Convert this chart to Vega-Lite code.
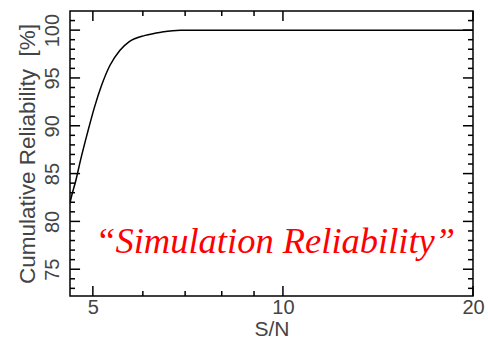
{
  "$schema": "https://vega.github.io/schema/vega-lite/v6.json",
  "width": 403,
  "height": 285,
  "autosize": "none",
  "padding": {"left": 70, "top": 11, "right": 15, "bottom": 47},
  "background": "white",
  "config": {
    "view": {"stroke": "black", "strokeWidth": 1.5},
    "axis": {
      "labelFont": "Liberation Sans",
      "titleFont": "Liberation Sans",
      "labelColor": "#444",
      "titleColor": "#444",
      "labelFontSize": 20,
      "titleFontSize": 21,
      "titleFontWeight": "normal",
      "domain": false,
      "grid": false,
      "labelFlush": false
    },
    "rule": {"color": "black", "strokeWidth": 1.5}
  },
  "resolve": {"axis": {"x": "independent", "y": "independent"}},
  "datasets": {
    "curve": [
      {"sn": 4.6, "rel": 81.9},
      {"sn": 4.61, "rel": 82.2},
      {"sn": 4.70, "rel": 84.3},
      {"sn": 4.78, "rel": 86.4},
      {"sn": 4.90, "rel": 89.2},
      {"sn": 5.03, "rel": 91.95},
      {"sn": 5.16, "rel": 94.2},
      {"sn": 5.32, "rel": 96.3},
      {"sn": 5.52, "rel": 97.9},
      {"sn": 5.71, "rel": 98.8},
      {"sn": 6.05, "rel": 99.45},
      {"sn": 6.43, "rel": 99.8},
      {"sn": 6.88, "rel": 100},
      {"sn": 8, "rel": 100},
      {"sn": 12, "rel": 100},
      {"sn": 20, "rel": 100}
    ],
    "xmajor": [{"v": 5}, {"v": 10}, {"v": 20}],
    "xminor": [{"v": 6}, {"v": 7}, {"v": 8}, {"v": 9}],
    "ymajor": [{"v": 75}, {"v": 80}, {"v": 85}, {"v": 90}, {"v": 95}, {"v": 100}],
    "yminor": [
      {"v": 73}, {"v": 74}, {"v": 76}, {"v": 77}, {"v": 78}, {"v": 79},
      {"v": 81}, {"v": 82}, {"v": 83}, {"v": 84}, {"v": 86}, {"v": 87}, {"v": 88}, {"v": 89},
      {"v": 91}, {"v": 92}, {"v": 93}, {"v": 94}, {"v": 96}, {"v": 97}, {"v": 98}, {"v": 99}, {"v": 101}
    ]
  },
  "layer": [
    {
      "data": {"name": "curve"},
      "mark": {"type": "line", "color": "black", "strokeWidth": 1.5, "interpolate": "monotone", "clip": true},
      "encoding": {
        "x": {
          "field": "sn", "type": "quantitative",
          "scale": {"type": "log", "domain": [4.6, 20], "nice": false, "zero": false},
          "axis": {"orient": "bottom", "title": "S/N", "values": [5, 10, 20], "ticks": false, "labelPadding": 1, "titlePadding": 1}
        },
        "y": {
          "field": "rel", "type": "quantitative",
          "scale": {"domain": [72.2, 102], "nice": false, "zero": false},
          "axis": {"orient": "left", "title": "Cumulative Reliability\u00a0 [%]", "titleFontSize": 22.5, "values": [75, 80, 85, 90, 95, 100], "ticks": false, "labelAngle": -90, "labelAlign": "center", "labelBaseline": "bottom", "labelPadding": 8, "titlePadding": 3}
        }
      }
    },
    {
      "data": {"name": "xmajor"},
      "mark": {"type": "rule"},
      "encoding": {
        "x": {"field": "v", "type": "quantitative", "axis": null},
        "y": {"datum": 72.2, "type": "quantitative", "axis": null},
        "y2": {"datum": 73.25}
      }
    },
    {
      "data": {"name": "xminor"},
      "mark": {"type": "rule"},
      "encoding": {
        "x": {"field": "v", "type": "quantitative", "axis": null},
        "y": {"datum": 72.2, "type": "quantitative", "axis": null},
        "y2": {"datum": 72.72}
      }
    },
    {
      "data": {"name": "xmajor"},
      "mark": {"type": "rule"},
      "encoding": {
        "x": {"field": "v", "type": "quantitative", "axis": null},
        "y": {"datum": 102, "type": "quantitative", "axis": null},
        "y2": {"datum": 100.955}
      }
    },
    {
      "data": {"name": "xminor"},
      "mark": {"type": "rule"},
      "encoding": {
        "x": {"field": "v", "type": "quantitative", "axis": null},
        "y": {"datum": 102, "type": "quantitative", "axis": null},
        "y2": {"datum": 101.48}
      }
    },
    {
      "data": {"name": "ymajor"},
      "mark": {"type": "rule"},
      "encoding": {
        "y": {"field": "v", "type": "quantitative", "axis": null},
        "x": {"datum": 4.6, "type": "quantitative", "axis": null},
        "x2": {"datum": 4.772}
      }
    },
    {
      "data": {"name": "yminor"},
      "mark": {"type": "rule"},
      "encoding": {
        "y": {"field": "v", "type": "quantitative", "axis": null},
        "x": {"datum": 4.6, "type": "quantitative", "axis": null},
        "x2": {"datum": 4.685}
      }
    },
    {
      "data": {"name": "ymajor"},
      "mark": {"type": "rule"},
      "encoding": {
        "y": {"field": "v", "type": "quantitative", "axis": null},
        "x": {"datum": 20, "type": "quantitative", "axis": null},
        "x2": {"datum": 19.28}
      }
    },
    {
      "data": {"name": "yminor"},
      "mark": {"type": "rule"},
      "encoding": {
        "y": {"field": "v", "type": "quantitative", "axis": null},
        "x": {"datum": 20, "type": "quantitative", "axis": null},
        "x2": {"datum": 19.64}
      }
    },
    {
      "data": {"values": [{}]},
      "mark": {"type": "text", "text": "“Simulation Reliability”", "color": "#ff0000", "font": "Liberation Serif", "fontStyle": "italic", "fontSize": 36.5, "align": "center", "baseline": "alphabetic"},
      "encoding": {
        "x": {"datum": 9.72, "type": "quantitative", "axis": null},
        "y": {"datum": 76.7, "type": "quantitative", "axis": null}
      }
    }
  ]
}
